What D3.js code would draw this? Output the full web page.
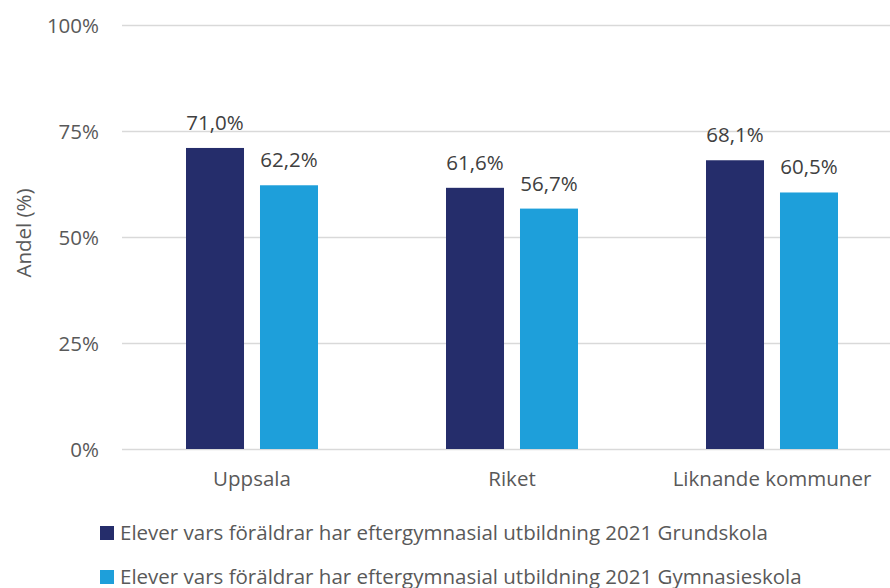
<!DOCTYPE html>
<html>
<head>
<meta charset="utf-8">
<script src="https://cdn.jsdelivr.net/npm/d3@7"></script>
<style>
  body { margin: 0; background: #fff; }
  svg { display: block; font-family: "Open Sans", sans-serif; }
</style>
</head>
<body>
<div id="chart"></div>
<script>
// ─── Data ───
const categories = ["Uppsala", "Riket", "Liknande kommuner"];
const seriesNames = [
  "Elever vars föräldrar har eftergymnasial utbildning 2021 Grundskola",
  "Elever vars föräldrar har eftergymnasial utbildning 2021 Gymnasieskola",
];
const grundskola = [71.0, 61.6, 68.1];
const gymnasieskola = [62.2, 56.7, 60.5];
const yTicks = [0, 25, 50, 75, 100];
const colors = ["#252D6B", "#1E9FDA"];

const width = 890, height = 588;
const FS = "20.5px";
const fmt = (v) => v.toFixed(1).replace(".", ",") + "%";

const svg = d3.select("#chart").append("svg")
  .attr("width", width).attr("height", height);

// ── Scales ──
const x0 = d3.scaleBand().domain(categories).range([122, 902])
  .paddingInner(0.4923).paddingOuter(0.24615);
const x1 = d3.scaleBand().domain([0, 1]).range([0, x0.bandwidth()])
  .paddingInner(0.216).paddingOuter(0);
const y = d3.scaleLinear().domain([0, 100]).range([449, 25]);

// ── Gridlines + y labels ──
const yAxis = d3.axisLeft(y).tickValues(yTicks).tickSize(-(902 - 122))
  .tickFormat((d) => d + "%").tickPadding(23);
const ya = svg.append("g").attr("transform", "translate(122,0)").call(yAxis);
ya.select(".domain").remove();
ya.selectAll(".tick line").attr("stroke", "#D9D9D9").attr("stroke-width", 1.5);
ya.selectAll(".tick text").attr("fill", "#595959")
  .style("font-size", FS).style("font-family", "'Open Sans', sans-serif")
  .attr("dy", "0.35em");

// Y title
svg.append("text")
  .attr("transform", "translate(31,233) rotate(-90)")
  .attr("text-anchor", "middle")
  .attr("fill", "#595959")
  .style("font-size", FS)
  .text("Andel (%)");

// ── Bars ──
const rows = categories.map((c, i) => ({ cat: c, vals: [grundskola[i], gymnasieskola[i]] }));
const groups = svg.selectAll("g.grp").data(rows).join("g")
  .attr("class", "grp")
  .attr("transform", (d) => `translate(${x0(d.cat)},0)`);

groups.selectAll("rect").data((d) => d.vals.map((v, s) => ({ v, s }))).join("rect")
  .attr("x", (d) => x1(d.s))
  .attr("width", x1.bandwidth())
  .attr("y", (d) => y(d.v))
  .attr("height", (d) => y(0) - y(d.v))
  .attr("fill", (d) => colors[d.s]);

groups.selectAll("text.val").data((d) => d.vals.map((v, s) => ({ v, s }))).join("text")
  .attr("class", "val")
  .attr("x", (d) => x1(d.s) + x1.bandwidth() / 2)
  .attr("y", (d) => y(d.v) - 18)
  .attr("text-anchor", "middle")
  .attr("fill", "#404040")
  .style("font-size", FS)
  .text((d) => fmt(d.v));

// ── Category labels ──
svg.selectAll("text.cat").data(categories).join("text")
  .attr("class", "cat")
  .attr("x", (d) => x0(d) + x0.bandwidth() / 2)
  .attr("y", 486)
  .attr("text-anchor", "middle")
  .attr("fill", "#595959")
  .style("font-size", FS)
  .text((d) => d);

// ── Legend ──
const lg = svg.selectAll("g.leg").data(seriesNames).join("g")
  .attr("class", "leg")
  .attr("transform", (d, i) => `translate(100,${526 + i * 44})`);
lg.append("rect").attr("width", 14).attr("height", 14)
  .attr("fill", (d, i) => colors[i]);
lg.append("text").attr("x", 20).attr("y", 14)
  .attr("fill", "#595959")
  .style("font-size", FS)
  .text((d) => d);
</script>
</body>
</html>
